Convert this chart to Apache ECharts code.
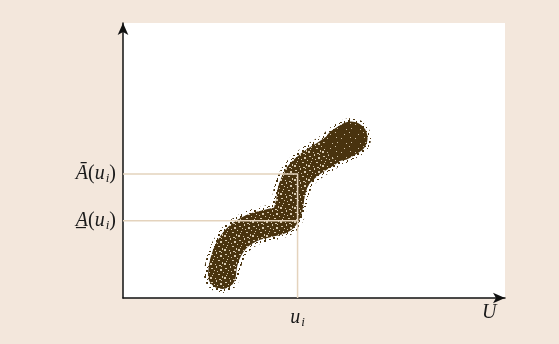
<!DOCTYPE html>
<html>
<head>
<meta charset="utf-8">
<script src="https://cdn.jsdelivr.net/npm/echarts@6/dist/echarts.min.js"></script>
<style>
  html, body { margin: 0; padding: 0; background: #f3e7dc; }
  #chart { width: 559px; height: 344px; }
</style>
</head>
<body>
<div id="chart"></div>
<script>
// Centre line of the sample cloud in (U, A) units
const cloudU = [25.9, 26.4, 27.7, 30.1, 33.8, 38.5, 42.1, 43.5, 44.2, 45.8, 49.0, 53.4, 57.3, 59.4];
const cloudA = [8.4, 13.1, 17.8, 22.2, 25.5, 27.3, 29.1, 33.8, 39.3, 44.4, 48.7, 52.7, 56.4, 58.2];
// Dense cluster at the upper end of the cloud (short axis of an elongated blob)
const clusterU = [57.1, 59.7];
const clusterA = [56.0, 58.2];
// Chosen input value and its upper / lower bounds
const ui = 45.7;
const upperA = 45.1;
const lowerA = 28.1;

const ink = '#49330f';
const guide = '#e4d3bd';

// Small repeating tiles giving the cloud its speckled look
function makeTile(size, base, spots, spotColor) {
  const c = document.createElement('canvas');
  c.width = c.height = size;
  const g = c.getContext('2d');
  if (base) { g.fillStyle = base; g.fillRect(0, 0, size, size); }
  g.fillStyle = spotColor;
  spots.forEach(([x, y, w, h]) => g.fillRect(x, y, w, h));
  return c;
}
const coreTile = makeTile(14, ink,
  [[1,2,2,1],[6,0,1,2],[10,3,2,2],[3,7,1,1],[8,8,2,1],[12,10,1,2],[0,11,2,2],
   [5,12,1,1],[9,13,2,1],[4,4,1,1],[13,6,1,1],[7,5,1,1],[11,0,1,1],[2,9,1,1]],
  'rgba(240,228,206,0.85)');
const denseTile = makeTile(14, ink,
  [[1,2,1,1],[10,3,1,1],[8,8,1,1],[0,11,1,1],[5,12,1,1],[13,6,1,1]],
  'rgba(240,228,206,0.8)');
const edgeTile = makeTile(12, null,
  [[0,0,2,2],[4,2,2,1],[8,1,1,2],[11,4,1,2],[2,6,2,2],[6,7,1,1],[9,9,2,2],
   [1,10,1,2],[5,11,2,1],[7,4,1,1],[10,6,1,1],[3,3,1,1]],
  ink);

const cloudLine = cloudU.map((u, i) => [u, cloudA[i]]);
const cluster = clusterU.map((u, i) => [u, clusterA[i]]);

const textColor = '#1a1a1a';
const labelFont = { fontFamily: 'Liberation Serif', fontStyle: 'italic', fontSize: 20, color: textColor };
const rich = {
  a: labelFont,
  p: Object.assign({}, labelFont, { fontStyle: 'normal' }),
  u: labelFont,
  s: Object.assign({}, labelFont, { fontSize: 13, padding: [9, 0, 0, 1] })
};

const axisCommon = {
  type: 'value', min: 0, max: 100,
  axisLine: { show: true, symbol: ['none', 'arrow'], symbolSize: [8, 12],
              lineStyle: { color: '#111', width: 1.5 } },
  axisTick: { show: false }, axisLabel: { show: false }, splitLine: { show: false }
};

function band(data, width, tile, z) {
  return { type: 'line', data: data, smooth: 0.4, symbol: 'none', z: z, silent: true,
    lineStyle: { width: width, color: { image: tile, repeat: 'repeat' }, cap: 'round', join: 'round' } };
}

const chart = echarts.init(document.getElementById('chart'));
chart.setOption({
  backgroundColor: '#f3e7dc',
  animation: false,
  grid: { left: 123, right: 54, top: 23, bottom: 46, show: true, backgroundColor: '#fff', borderWidth: 0 },
  xAxis: Object.assign({}, axisCommon, {
    name: 'U', nameLocation: 'end', nameGap: -23,
    nameTextStyle: Object.assign({}, labelFont, { verticalAlign: 'top', padding: [5, 0, 0, 0] })
  }),
  yAxis: axisCommon,
  series: [
    band(cloudLine, 36, edgeTile, 1),
    band(cluster, 40, edgeTile, 1),
    band(cloudLine, 28, coreTile, 2),
    band(cluster, 33, denseTile, 3),
    { type: 'line', data: [[0, upperA], [ui, upperA], [ui, 0]], symbol: 'none', z: 5, silent: true,
      lineStyle: { color: guide, width: 1.5 } },
    { type: 'line', data: [[0, lowerA], [ui, lowerA]], symbol: 'none', z: 5, silent: true,
      lineStyle: { color: guide, width: 1.5 } },
    { type: 'scatter', symbolSize: 0, z: 6, silent: true,
      itemStyle: { opacity: 1 },
      data: [
        { value: [0, upperA], label: { position: 'left', distance: 7, formatter: '{a|Ā}{p|(}{u|u}{s|i}{p|)}' } },
        { value: [0, lowerA], label: { position: 'left', distance: 7, formatter: '{a|A\u0332}{p|(}{u|u}{s|i}{p|)}' } },
        { value: [ui, 0], label: { position: 'bottom', distance: 9, formatter: '{u|u}{s|i}' } }
      ],
      label: { show: true, color: textColor, rich: rich }
    }
  ]
});
</script>
</body>
</html>
